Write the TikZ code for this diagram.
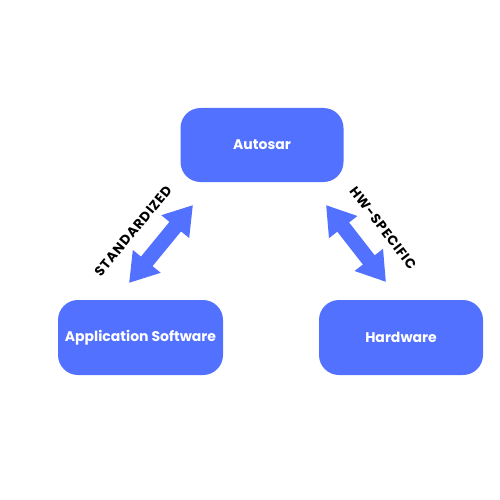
\documentclass[tikz,border=0pt]{standalone}
\usepackage{fontspec}
\setmainfont{Poppins}
\newfontfamily\lblfont[LetterSpace=6]{Poppins}
\usetikzlibrary{arrows.meta}
\definecolor{boxblue}{HTML}{5271FF}
\tikzset{
  box/.style={fill=boxblue, rounded corners=20pt, text=white, font=\bfseries\fontsize{14}{16}\selectfont, inner sep=0pt},
  dblarrow/.style={draw=boxblue, line width=15pt, {Triangle[length=28pt,width=34pt]}-{Triangle[length=28pt,width=34pt]}},
  lbl/.style={font=\lblfont\bfseries\fontsize{13.5}{15}\selectfont, text=black}
}
\begin{document}
\begin{tikzpicture}[x=1pt,y=-1pt]
\useasboundingbox (0,0) rectangle (500,500);
\node[box, minimum width=163pt, minimum height=74pt] (auto) at (262,145) {Autosar};
\node[box, minimum width=165pt, minimum height=75pt] (app) at (140.5,337.5) {Application Software};
\node[box, minimum width=164pt, minimum height=75pt] (hw) at (401,337.5) {Hardware};
\coordinate (la) at (193,205);
\coordinate (lb) at (129,283);
\coordinate (ra) at (326,205);
\coordinate (rb) at (386,282);
\draw[dblarrow] (lb) -- (la);
\draw[dblarrow] (ra) -- (rb);
\node[lbl, rotate=50.5] (std) at (133,231) {STANDARDIZED};
\node[lbl, rotate=-52.5] (hws) at (383,228) {HW-SPECIFIC};
\end{tikzpicture}
\end{document}
